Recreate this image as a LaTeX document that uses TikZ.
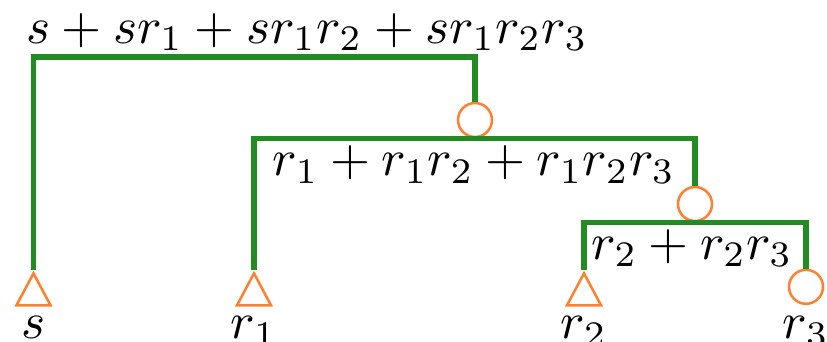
\documentclass[tikz,border=0pt]{standalone}
\usetikzlibrary{shapes.geometric, positioning}
\definecolor{TreeGreen}{RGB}{34,139,34}
\definecolor{LeafOrange}{RGB}{255,128,48}

\begin{document}
\begin{tikzpicture}[
    edge/.style={TreeGreen, line width=3.6pt},
    leaf/.style={isosceles triangle, shape border rotate=90,
                 isosceles triangle stretches,
                 minimum width=0.85cm, minimum height=0.8cm,
                 inner sep=0pt, draw=LeafOrange, line width=1.8pt},
    joint/.style={circle, minimum size=0.85cm, inner sep=0pt,
                  draw=LeafOrange, line width=1.8pt},
    lbl/.style={scale=3.65, inner sep=0pt}
  ]
  \useasboundingbox (0,0) rectangle (20.675,-8.55);

  % Leaves (triangles) and inner joints (circles)
  \node[leaf, anchor=apex] (tS)  at (0.8375, -6.75) {};
  \node[leaf, anchor=apex] (tR1) at (6.35,   -6.75) {};
  \node[leaf, anchor=apex] (tR2) at (14.6,   -6.75) {};
  \node[joint] (c1) at (11.875, -3.0) {};
  \node[joint] (c2) at (17.375, -5.1) {};
  \node[joint] (c3) at (20.15,  -7.17) {};

  % Corners of the brackets
  \coordinate (j0) at (11.875, -1.425);
  \coordinate (j1) at (c2 |- c1.south);
  \coordinate (j2) at (c3 |- c2.south);
  \coordinate (base) at (0, -8.47);

  % Brackets
  \draw[edge] (tS.apex)  |- (j0) -- (c1.north);
  \draw[edge] (tR1.apex) |- (j1) -- (c2.north);
  \draw[edge] (tR2.apex) |- (j2) -- (c3.north);

  % Sums
  \node[lbl] (sum0) at (7.68, -0.8)  {$s+sr_1+sr_1r_2+sr_1r_2r_3$};
  \node[lbl] (sum1) at (11.85, -4.12) {$r_1+r_1r_2+r_1r_2r_3$};
  \node[lbl] (sum2) at (17.3, -6.2)  {$r_2+r_2r_3$};

  % Leaf names
  \node[lbl, anchor=base] (nS)  at (tS.south |- base)  {$s$};
  \node[lbl, anchor=base] (nR1) at (tR1.south |- base) {$r_1$};
  \node[lbl, anchor=base] (nR2) at (tR2.south |- base) {$r_2$};
  \node[lbl, anchor=base] (nR3) at (c3.south |- base)  {$r_3$};
\end{tikzpicture}
\end{document}
